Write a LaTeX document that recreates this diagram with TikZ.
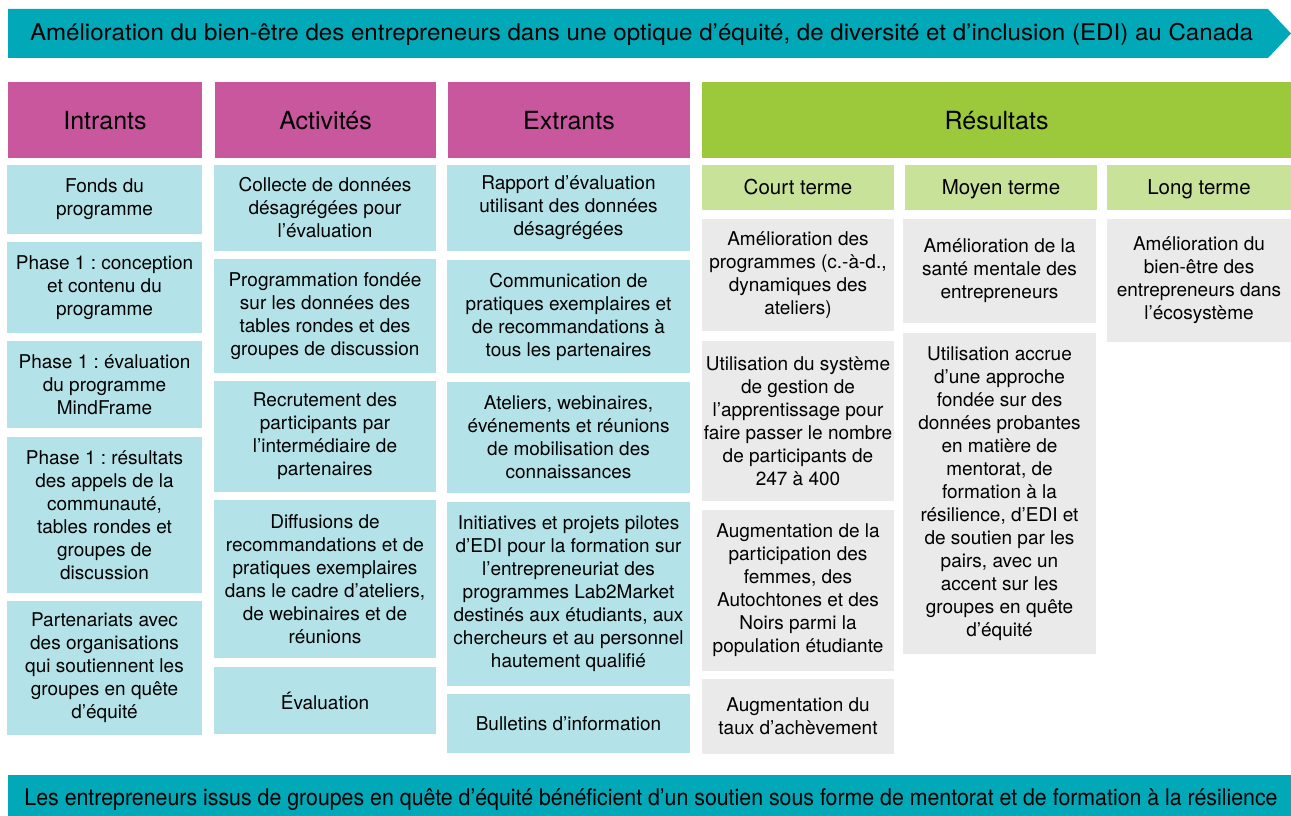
\documentclass[tikz,border=0pt]{standalone}
\usepackage{fontspec}
\usepackage{graphicx}
\setmainfont{TeX Gyre Heros}
\frenchspacing
\definecolor{banner}{HTML}{00A8B8}
\definecolor{magh}{HTML}{C8579E}
\definecolor{cyanbox}{HTML}{B3E3E8}
\definecolor{greenh}{HTML}{9CC83B}
\definecolor{greensub}{HTML}{C9E29A}
\definecolor{graybox}{HTML}{EAEAEA}
\tikzset{
  base/.style={inner sep=0pt, outer sep=0pt, align=center, text=black, font=\fontsize{19}{23}\selectfont\frenchspacing},
  hdr/.style={base, fill=magh, font=\fontsize{25}{28}\selectfont, text height=18pt, text depth=0pt},
  reshdr/.style={base, fill=greenh, font=\fontsize{25}{28}\selectfont, text height=18pt, text depth=0pt},
  subhdr/.style={base, fill=greensub, font=\fontsize{20.5}{24}\selectfont, text height=14.8pt, text depth=0pt},
  inbox/.style={base, fill=cyanbox},
  outbox/.style={base, fill=graybox},
}
\newcommand{\cbox}[7]{\node[#6, minimum width={#4-#2}, minimum height={#5-#3}] (#1) at ({(#2+#4)/2},{(#3+#5)/2}) {#7};}
\begin{document}
\begin{tikzpicture}[x=1pt,y=-1pt]
\useasboundingbox (0,0) rectangle (1291,816);
% top banner
\fill[banner] (8,9) -- (1268,9) -- (1291,33.5) -- (1268,58) -- (8,58) -- cycle;
\node[base] (top) at (641.5,34) {\resizebox{1223pt}{\height}{\fontsize{23}{23}\selectfont Amélioration du bien-être des entrepreneurs dans une optique d’équité, de diversité et d’inclusion (EDI) au Canada}};
% bottom banner
\fill[banner] (8,775) rectangle (1291,816);
\node[base] (bottom) at (651,800) {\resizebox{1253pt}{\height}{\fontsize{23}{23}\selectfont Les entrepreneurs issus de groupes en quête d’équité bénéficient d’un soutien sous forme de mentorat et de formation à la résilience}};
% headers
\cbox{hI}{8}{82}{202}{158}{hdr}{Intrants}
\cbox{hA}{215}{82}{436}{158}{hdr}{Activités}
\cbox{hE}{448}{82}{690}{158}{hdr}{Extrants}
\cbox{hR}{702}{82}{1291}{158}{reshdr}{Résultats}
\cbox{hC}{702}{165}{894}{210}{subhdr}{Court terme}
\cbox{hM}{905}{165}{1097}{210}{subhdr}{Moyen terme}
\cbox{hL}{1107}{165}{1291}{210}{subhdr}{Long terme}
% Intrants
\cbox{i1}{7}{165}{202}{234}{inbox}{Fonds du\\programme}
\cbox{i2}{7}{242}{202}{333}{inbox}{Phase 1 : conception\\et contenu du\\programme}
\cbox{i3}{7}{341}{202}{428}{inbox}{Phase 1 : évaluation\\du programme\\MindFrame}
\cbox{i4}{7}{437}{202}{593}{inbox}{Phase 1 : résultats\\des appels de la\\communauté,\\tables rondes et\\groupes de\\discussion}
\cbox{i5}{7}{601}{202}{735}{inbox}{Partenariats avec\\des organisations\\qui soutiennent les\\groupes en quête\\d’équité}
% Activites
\cbox{a1}{214}{165}{436}{251}{inbox}{Collecte de données\\désagrégées pour\\l’évaluation}
\cbox{a2}{214}{259}{436}{373}{inbox}{Programmation fondée\\sur les données des\\tables rondes et des\\groupes de discussion}
\cbox{a3}{214}{381}{436}{492}{inbox}{Recrutement des\\participants par\\l’intermédiaire de\\partenaires}
\cbox{a4}{214}{500}{436}{658}{inbox}{Diffusions de\\recommandations et de\\pratiques exemplaires\\dans le cadre d’ateliers,\\de webinaires et de\\réunions}
\cbox{a5}{214}{667}{436}{734}{inbox}{Évaluation}
% Extrants
\cbox{e1}{447}{165}{690}{251}{inbox}{Rapport d’évaluation\\utilisant des données\\désagrégées}
\cbox{e2}{447}{260}{690}{373}{inbox}{Communication de\\pratiques exemplaires et\\de recommandations à\\tous les partenaires}
\cbox{e3}{447}{382}{690}{493}{inbox}{Ateliers, webinaires,\\événements et réunions\\de mobilisation des\\connaissances}
\cbox{e4}{447}{502}{690}{686}{inbox}{Initiatives et projets pilotes\\d’EDI pour la formation sur\\l’entrepreneuriat des\\programmes Lab2Market\\destinés aux étudiants, aux\\chercheurs et au personnel\\hautement qualifié}
\cbox{e5}{447}{694}{690}{753}{inbox}{Bulletins d’information}
% Court terme
\cbox{c1}{702}{219}{894}{331}{outbox}{Amélioration des\\programmes (c.-à-d.,\\dynamiques des\\ateliers)}
\cbox{c2}{702}{341}{894}{501}{outbox}{Utilisation du système\\de gestion de\\l’apprentissage pour\\faire passer le nombre\\de participants de\\247 à 400}
\cbox{c3}{702}{510}{894}{671}{outbox}{Augmentation de la\\participation des\\femmes, des\\Autochtones et des\\Noirs parmi la\\population étudiante}
\cbox{c4}{702}{679}{894}{754}{outbox}{Augmentation du\\taux d’achèvement}
% Moyen terme
\cbox{m1}{903}{219}{1096}{323}{outbox}{Amélioration de la\\santé mentale des\\entrepreneurs}
\cbox{m2}{903}{333}{1096}{654}{outbox}{Utilisation accrue\\d’une approche\\fondée sur des\\données probantes\\en matière de\\mentorat, de\\formation à la\\résilience, d’EDI et\\de soutien par les\\pairs, avec un\\accent sur les\\groupes en quête\\d’équité}
% Long terme
\cbox{l1}{1107}{219}{1291}{342}{outbox}{Amélioration du\\bien-être des\\entrepreneurs dans\\l’écosystème}
\end{tikzpicture}
\end{document}
